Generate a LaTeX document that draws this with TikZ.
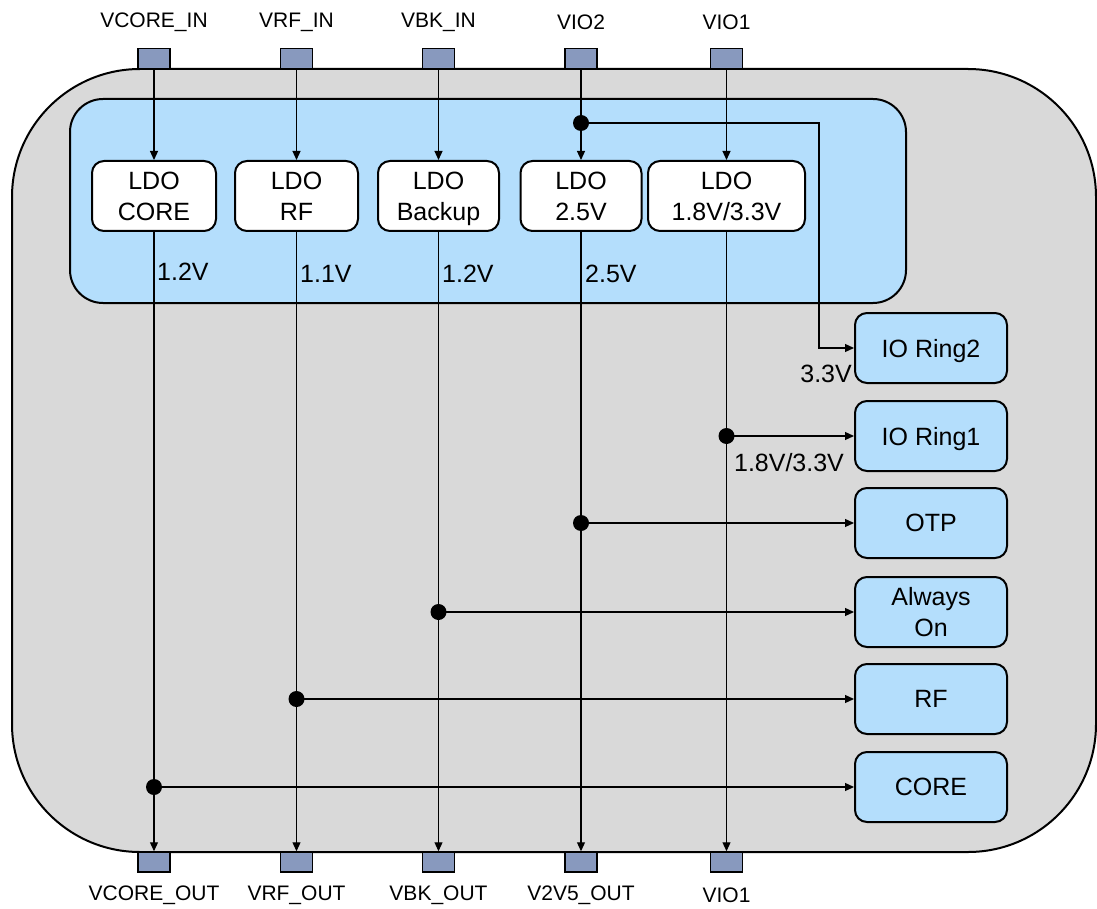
\documentclass[tikz,border=0pt]{standalone}
\usepackage{fontspec}
\setmainfont{Liberation Sans}
\usetikzlibrary{arrows.meta}
\definecolor{chipgrey}{RGB}{217,217,217}
\definecolor{ldoblue}{RGB}{180,222,252}
\definecolor{pinblue}{RGB}{136,153,190}
\newcommand\nodp[1]{\raisebox{0pt}[\height][0pt]{#1}}
\tikzset{
  big/.style={font=\fontsize{25}{31}\selectfont},
  small/.style={font=\fontsize{21}{25}\selectfont},
  ldobox/.style={draw, line width=2pt, rounded corners=12pt, fill=white, align=center, minimum height=70pt, inner sep=0pt, big},
  loadbox/.style={draw, line width=2pt, rounded corners=12pt, fill=ldoblue, align=center, minimum width=152pt, minimum height=70pt, inner sep=0pt, big},
  pin/.style={draw, line width=1.5pt, fill=pinblue, minimum width=32pt, minimum height=20pt, inner sep=0pt},
  wire/.style={line width=1.2pt},
  arr/.style={wire, -{Triangle[length=9pt,width=8pt]}},
  jdot/.style={circle, fill=black, minimum size=16pt, inner sep=0pt},
}
\begin{document}
\begin{tikzpicture}[x=1pt,y=-1pt]
\useasboundingbox (0,0) rectangle (1097,909);
% chip outline
\draw[line width=2pt, fill=chipgrey, rounded corners=128pt] (12,69) rectangle (1096,852);
% LDO area
\draw[line width=2pt, fill=ldoblue, rounded corners=33pt] (70,99) rectangle (906,303);

% LDO boxes
\node[ldobox, minimum width=124pt] (l1) at (154,196) {LDO\\CORE};
\node[ldobox, minimum width=123pt] (l2) at (296.5,196) {LDO\\RF};
\node[ldobox, minimum width=121pt] (l3) at (438.5,196) {LDO\\\nodp{Backup}};
\node[ldobox, minimum width=121pt] (l4) at (581,196) {LDO\\2.5V};
\node[ldobox, minimum width=157pt] (l5) at (726.5,196) {LDO\\1.8V/3.3V};

% load boxes
\node[loadbox] (r1) at (931,348) {\nodp{IO Ring2}};
\node[loadbox] (r2) at (931,436) {\nodp{IO Ring1}};
\node[loadbox] (r3) at (931,523) {OTP};
\node[loadbox] (r4) at (931,612) {Always\\On};
\node[loadbox] (r5) at (931,699) {RF};
\node[loadbox] (r6) at (931,787) {CORE};

% top pins
\node[pin] (t1) at (154,58.5) {};
\node[pin] (t2) at (296.5,58.5) {};
\node[pin] (t3) at (438.5,58.5) {};
\node[pin] (t4) at (581,58.5) {};
\node[pin] (t5) at (726.5,58.5) {};
\node[small] (tl1) at (154,22) {VCORE\_IN};
\node[small] (tl2) at (296.5,22) {VRF\_IN};
\node[small] (tl3) at (438.5,22) {VBK\_IN};
\node[small] (tl4) at (581,22) {VIO2};
\node[small] (tl5) at (726.5,22) {VIO1};

% bottom pins
\node[pin] (b1) at (154,862) {};
\node[pin] (b2) at (296.5,862) {};
\node[pin] (b3) at (438.5,862) {};
\node[pin] (b4) at (581,862) {};
\node[pin] (b5) at (726.5,862) {};
\node[small] (bl1) at (154,895) {VCORE\_OUT};
\node[small] (bl2) at (296.5,895) {VRF\_OUT};
\node[small] (bl3) at (438.5,895) {VBK\_OUT};
\node[small] (bl4) at (581,895) {V2V5\_OUT};
\node[small] (bl5) at (726.5,895) {VIO1};

% junctions
\node[jdot] (dv) at (581,123) {};
\node[jdot] (d2) at (726.5,436) {};
\node[jdot] (d3) at (581,523) {};
\node[jdot] (d4) at (438.5,612) {};
\node[jdot] (d5) at (296.5,699) {};
\node[jdot] (d6) at (154,787) {};
\coordinate (bend) at (819,123);

% inputs
\draw[arr] (t1.south) -- (l1.north);
\draw[arr] (t2.south) -- (l2.north);
\draw[arr] (t3.south) -- (l3.north);
\draw[wire] (t4.south) -- (dv.center);
\draw[arr] (dv.center) -- (l4.north);
\draw[arr] (t5.south) -- (l5.north);
\draw[arr] (dv.center) -- (bend) |- (r1.west);

% outputs
\draw[arr] (l1.south) -- (b1.north);
\draw[arr] (l2.south) -- (b2.north);
\draw[arr] (l3.south) -- (b3.north);
\draw[arr] (l4.south) -- (b4.north);
\draw[arr] (l5.south) -- (b5.north);

% distribution
\draw[arr] (d2.center) -- (r2.west);
\draw[arr] (d3.center) -- (r3.west);
\draw[arr] (d4.center) -- (r4.west);
\draw[arr] (d5.center) -- (r5.west);
\draw[arr] (d6.center) -- (r6.west);

% voltage labels
\node[big, anchor=west, inner sep=0pt] (v1) at (157,272) {1.2V};
\node[big, anchor=west, inner sep=0pt] (v2) at (300,274) {1.1V};
\node[big, anchor=west, inner sep=0pt] (v3) at (442,274) {1.2V};
\node[big, anchor=west, inner sep=0pt] (v4) at (585,274) {2.5V};
\node[big, anchor=east, inner sep=0pt] (v5) at (852,374) {3.3V};
\node[big, inner sep=0pt] (v6) at (789,463) {1.8V/3.3V};
\end{tikzpicture}
\end{document}
